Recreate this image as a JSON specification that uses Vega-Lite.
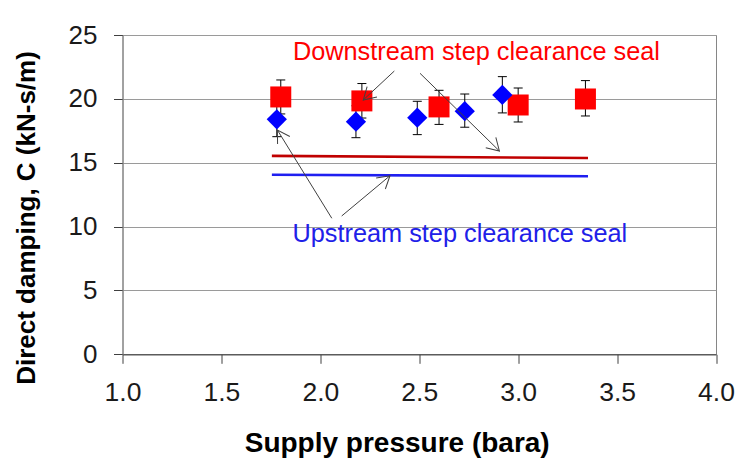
{
  "$schema": "https://vega.github.io/schema/vega-lite/v6.json",
  "width": 593.5,
  "height": 319.3,
  "autosize": "none",
  "padding": {"left": 122.5, "top": 35, "right": 19, "bottom": 108.7},
  "background": "white",
  "config": {
    "view": {"stroke": "#868686", "strokeWidth": 1},
    "font": "Liberation Sans",
    "axisX": {
      "grid": false,
      "tickSize": 9,
      "tickColor": "#404040",
      "domainColor": "#404040",
      "labelFontSize": 26.5,
      "labelFont": "Liberation Sans",
      "labelColor": "#1a1a1a",
      "labelPadding": 36.7,
      "labelBaseline": "alphabetic",
      "labelFlush": false,
      "labelOverlap": false,
      "titleFontSize": 28,
      "titleFontWeight": "bold",
      "titleFont": "Liberation Sans",
      "titleColor": "#000000",
      "titleX": 274.2,
      "titleY": 97.4,
      "titleAlign": "center",
      "titleBaseline": "alphabetic"
    },
    "axisY": {
      "grid": true,
      "gridColor": "#9a9a9a",
      "tickSize": 9,
      "tickColor": "#404040",
      "domainColor": "#808080",
      "labelFontSize": 26,
      "labelFont": "Liberation Sans",
      "labelColor": "#1a1a1a",
      "labelPadding": 16.5,
      "titleFontSize": 26,
      "titleFontWeight": "bold",
      "titleFont": "Liberation Sans",
      "titleColor": "#000000",
      "titleAngle": -90,
      "titleX": -96.5,
      "titleY": 182.5,
      "titleAlign": "center",
      "titleBaseline": "middle"
    }
  },
  "datasets": {
    "points": [
      {"series": "Downstream", "x": 1.80, "y": 20.15, "lo": 18.82, "hi": 21.48},
      {"series": "Downstream", "x": 2.21, "y": 19.84, "lo": 18.50, "hi": 21.20},
      {"series": "Downstream", "x": 2.60, "y": 19.37, "lo": 18.00, "hi": 20.67},
      {"series": "Downstream", "x": 3.00, "y": 19.52, "lo": 18.19, "hi": 20.85},
      {"series": "Downstream", "x": 3.34, "y": 19.99, "lo": 18.66, "hi": 21.43},
      {"series": "Upstream", "x": 1.78, "y": 18.40, "lo": 17.04, "hi": 19.75},
      {"series": "Upstream", "x": 2.18, "y": 18.21, "lo": 16.96, "hi": 19.46},
      {"series": "Upstream", "x": 2.49, "y": 18.53, "lo": 17.20, "hi": 19.81},
      {"series": "Upstream", "x": 2.73, "y": 19.03, "lo": 17.78, "hi": 20.38},
      {"series": "Upstream", "x": 2.92, "y": 20.31, "lo": 18.90, "hi": 21.74}
    ],
    "predictions": [
      {"series": "Downstream", "x": 1.755, "y": 15.53},
      {"series": "Downstream", "x": 3.353, "y": 15.37},
      {"series": "Upstream", "x": 1.755, "y": 14.06},
      {"series": "Upstream", "x": 3.353, "y": 13.94}
    ],
    "arrows": [
      {"x": 2.374, "y": 22.18, "x2": 2.217, "y2": 19.91},
      {"x": 2.504, "y": 22.0, "x2": 2.905, "y2": 15.92},
      {"x": 2.058, "y": 10.65, "x2": 1.783, "y2": 17.56},
      {"x": 2.108, "y": 10.83, "x2": 2.352, "y2": 13.98}
    ],
    "labels": [
      {"series": "Downstream", "x": 2.789, "y": 23.05, "text": "Downstream step clearance seal"},
      {"series": "Upstream", "x": 2.705, "y": 8.82, "text": "Upstream step clearance seal"}
    ]
  },
  "resolve": {"scale": {"color": "independent"}},
  "layer": [
    {
      "data": {"name": "predictions"},
      "mark": {"type": "line", "strokeWidth": 2.7},
      "encoding": {
        "x": {
          "field": "x", "type": "quantitative", "title": "Supply pressure (bara)",
          "scale": {"domain": [1, 4], "nice": false, "zero": false},
          "axis": {"values": [1, 1.5, 2, 2.5, 3, 3.5, 4], "format": ".1f"}
        },
        "y": {
          "field": "y", "type": "quantitative", "title": "Direct damping, C (kN-s/m)",
          "scale": {"domain": [0, 25], "nice": false},
          "axis": {"values": [0, 5, 10, 15, 20, 25]}
        },
        "color": {
          "field": "series", "type": "nominal",
          "scale": {"domain": ["Downstream", "Upstream"], "range": ["#C00000", "#1F1FF0"]},
          "legend": null
        }
      }
    },
    {
      "data": {"name": "points"},
      "mark": {"type": "rule", "color": "#000000", "strokeWidth": 1},
      "encoding": {
        "x": {"field": "x", "type": "quantitative", "title": "Supply pressure (bara)", "scale": {"domain": [1, 4], "nice": false, "zero": false}},
        "y": {"field": "lo", "type": "quantitative", "title": "Direct damping, C (kN-s/m)", "scale": {"domain": [0, 25], "nice": false}},
        "y2": {"field": "hi"}
      }
    },
    {
      "data": {"name": "points"},
      "mark": {"type": "tick", "orient": "horizontal", "color": "#000000", "size": 9, "thickness": 1, "opacity": 1},
      "encoding": {
        "x": {"field": "x", "type": "quantitative", "title": "Supply pressure (bara)", "scale": {"domain": [1, 4], "nice": false, "zero": false}},
        "y": {"field": "hi", "type": "quantitative", "title": "Direct damping, C (kN-s/m)", "scale": {"domain": [0, 25], "nice": false}}
      }
    },
    {
      "data": {"name": "points"},
      "mark": {"type": "tick", "orient": "horizontal", "color": "#000000", "size": 9, "thickness": 1, "opacity": 1},
      "encoding": {
        "x": {"field": "x", "type": "quantitative", "title": "Supply pressure (bara)", "scale": {"domain": [1, 4], "nice": false, "zero": false}},
        "y": {"field": "lo", "type": "quantitative", "title": "Direct damping, C (kN-s/m)", "scale": {"domain": [0, 25], "nice": false}}
      }
    },
    {
      "data": {"name": "points"},
      "transform": [{"filter": "datum.series === 'Downstream'"}],
      "mark": {"type": "point", "shape": "square", "filled": true, "size": 441, "color": "#FF0000", "opacity": 1},
      "encoding": {
        "x": {"field": "x", "type": "quantitative", "title": "Supply pressure (bara)", "scale": {"domain": [1, 4], "nice": false, "zero": false}},
        "y": {"field": "y", "type": "quantitative", "title": "Direct damping, C (kN-s/m)", "scale": {"domain": [0, 25], "nice": false}}
      }
    },
    {
      "data": {"name": "points"},
      "transform": [{"filter": "datum.series === 'Upstream'"}],
      "mark": {"type": "point", "shape": "diamond", "filled": true, "size": 410, "color": "#0000FF", "opacity": 1},
      "encoding": {
        "x": {"field": "x", "type": "quantitative", "title": "Supply pressure (bara)", "scale": {"domain": [1, 4], "nice": false, "zero": false}},
        "y": {"field": "y", "type": "quantitative", "title": "Direct damping, C (kN-s/m)", "scale": {"domain": [0, 25], "nice": false}}
      }
    },
    {
      "data": {"name": "arrows"},
      "mark": {"type": "rule", "color": "#404040", "strokeWidth": 1},
      "encoding": {
        "x": {"field": "x", "type": "quantitative", "title": "Supply pressure (bara)", "scale": {"domain": [1, 4], "nice": false, "zero": false}},
        "y": {"field": "y", "type": "quantitative", "title": "Direct damping, C (kN-s/m)", "scale": {"domain": [0, 25], "nice": false}},
        "x2": {"field": "x2"},
        "y2": {"field": "y2"}
      }
    },
    {
      "data": {"name": "arrows"},
      "transform": [
        {"calculate": "atan2((datum.x2 - datum.x) * 197.83, (datum.y2 - datum.y) * 12.772) * 180 / PI", "as": "ang"}
      ],
      "mark": {"type": "point", "shape": "M-0.72,1.2L0,0L0.72,1.2", "filled": false, "size": 400, "stroke": "#404040", "strokeWidth": 1, "opacity": 1},
      "encoding": {
        "x": {"field": "x2", "type": "quantitative", "title": "Supply pressure (bara)", "scale": {"domain": [1, 4], "nice": false, "zero": false}},
        "y": {"field": "y2", "type": "quantitative", "title": "Direct damping, C (kN-s/m)", "scale": {"domain": [0, 25], "nice": false}},
        "angle": {"field": "ang", "type": "quantitative", "scale": null}
      }
    },
    {
      "data": {"name": "labels"},
      "mark": {"type": "text", "align": "center", "baseline": "alphabetic", "fontSize": 25.3, "font": "Liberation Sans"},
      "encoding": {
        "x": {"field": "x", "type": "quantitative", "title": "Supply pressure (bara)", "scale": {"domain": [1, 4], "nice": false, "zero": false}},
        "y": {"field": "y", "type": "quantitative", "title": "Direct damping, C (kN-s/m)", "scale": {"domain": [0, 25], "nice": false}},
        "text": {"field": "text"},
        "color": {
          "field": "series", "type": "nominal",
          "scale": {"domain": ["Downstream", "Upstream"], "range": ["#FF0000", "#2020E8"]},
          "legend": null
        }
      }
    }
  ]
}
